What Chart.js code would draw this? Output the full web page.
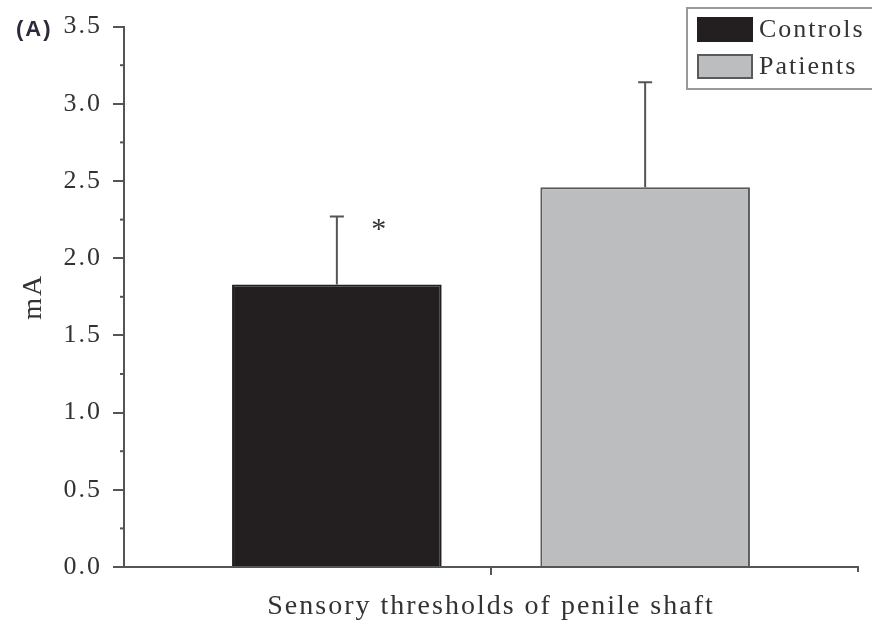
<!DOCTYPE html>
<html>
<head>
<meta charset="utf-8">
<script src="https://cdn.jsdelivr.net/npm/chart.js@4/dist/chart.umd.min.js"></script>
<style>
  body { margin: 0; background: #fff; }
  #wrap { width: 872px; height: 628px; position: relative; }
</style>
</head>
<body>
<div id="wrap"><canvas id="myChart"></canvas></div>
<script>
const categories = [""];
const seriesNames = ["Controls", "Patients"];
const means = [1.83, 2.46];
const errors = [0.44, 0.68];
const starred = [true, false];
const fills = ["#231f20", "#bcbdbf"];
const edges = ["#231f20", "#5a5a5a"];
const yTicks = [0, 0.5, 1, 1.5, 2, 2.5, 3, 3.5];

const serif = "'Liberation Serif', 'Times New Roman', serif";
const axisColor = "#555";
const spacing = "2px";

// the original type is set a little wide, so loosen the letters a bit
const loose = {
    id: "loose",
    beforeLayout(chart) { chart.ctx.letterSpacing = spacing; },
    beforeDraw(chart) { chart.ctx.letterSpacing = spacing; },
};

const datasets = seriesNames.map((name, i) => ({
    label: name,
    data: [means[i]],
    backgroundColor: fills[i],
    borderColor: edges[i],
    borderWidth: 2,
    borderSkipped: "bottom",
    categoryPercentage: 0.84,
    barPercentage: 0.68,
}));

// upper error bars, asterisk, minor ticks, panel letter and legend box
const extras = {
    id: "extras",
    afterDatasetsDraw(chart) {
        const ctx = chart.ctx;
        const y = chart.scales.y;
        const x = chart.scales.x;
        ctx.save();
        ctx.strokeStyle = axisColor;
        ctx.lineWidth = 2;
        chart.data.datasets.forEach((ds, i) => {
            const bar = chart.getDatasetMeta(i).data[0];
            const top = y.getPixelForValue(means[i] + errors[i]);
            ctx.beginPath();
            ctx.moveTo(bar.x, bar.y);
            ctx.lineTo(bar.x, top);
            ctx.moveTo(bar.x - 7, top);
            ctx.lineTo(bar.x + 7, top);
            ctx.stroke();
            if (starred[i]) {
                ctx.fillStyle = "#333";
                ctx.font = "30px " + serif;
                ctx.textAlign = "center";
                ctx.textBaseline = "middle";
                ctx.fillText("*", bar.x + 43, top + 14);
            }
        });

        // minor y ticks
        for (let k = 0; k < yTicks.length - 1; k++) {
            const py = y.getPixelForValue((yTicks[k] + yTicks[k + 1]) / 2);
            ctx.beginPath();
            ctx.moveTo(x.left - 4, py);
            ctx.lineTo(x.left, py);
            ctx.stroke();
        }
        // small end tick on x axis
        ctx.beginPath();
        ctx.moveTo(x.right, y.bottom);
        ctx.lineTo(x.right, y.bottom + 5);
        ctx.stroke();

        // panel letter
        ctx.fillStyle = "#2b2b3d";
        ctx.font = "bold 22px 'Liberation Sans', Arial, sans-serif";
        ctx.textAlign = "left";
        ctx.textBaseline = "middle";
        ctx.fillText("(A)", 16, 30);

        // legend
        ctx.fillStyle = "#fff";
        ctx.strokeStyle = "#999";
        ctx.lineWidth = 2;
        ctx.fillRect(687, 8, 200, 81);
        ctx.strokeRect(687, 8, 200, 81);
        ctx.font = "26px " + serif;
        chart.data.datasets.forEach((ds, i) => {
            const sy = 18 + i * 37;
            ctx.fillStyle = ds.backgroundColor;
            ctx.fillRect(698, sy, 54, 23);
            ctx.strokeStyle = ds.borderColor;
            ctx.lineWidth = 2;
            ctx.strokeRect(698, sy, 54, 23);
            ctx.fillStyle = "#333";
            ctx.textBaseline = "middle";
            ctx.fillText(ds.label, 759, sy + 12);
        });
        ctx.restore();
    }
};

const chart = new Chart(document.getElementById("myChart"), {
    type: "bar",
    data: { labels: categories, datasets },
    options: {
        responsive: true,
        maintainAspectRatio: false,
        animation: false,
        layout: { padding: { left: 0, right: 14, top: 24, bottom: 0 } },
        plugins: {
            legend: { display: false },
            tooltip: { enabled: false },
        },
        scales: {
            x: {
                grid: {
                    display: true,
                    offset: false,
                    drawOnChartArea: false,
                    tickLength: 8,
                    tickColor: axisColor,
                    lineWidth: 2,
                },
                border: { display: true, color: axisColor, width: 2 },
                ticks: { display: true, font: { size: 2 } },
                title: {
                    display: true,
                    text: "Sensory thresholds of penile shaft",
                    color: "#333",
                    font: { family: serif, size: 28 },
                    padding: { top: 0, bottom: 5 },
                },
                afterFit: (scale) => { scale.height = 61; },
            },
            y: {
                min: 0,
                max: 3.5,
                afterBuildTicks: (scale) => {
                    scale.ticks = yTicks.map((v) => ({ value: v }));
                },
                grid: {
                    display: true,
                    drawOnChartArea: false,
                    tickLength: 11,
                    tickColor: axisColor,
                    lineWidth: 2,
                },
                border: { display: true, color: axisColor, width: 2 },
                ticks: {
                    color: "#333",
                    padding: 11,
                    font: { family: serif, size: 26 },
                    callback: (v) => Number(v).toFixed(1),
                },
                title: {
                    display: true,
                    text: "mA",
                    color: "#333",
                    font: { family: serif, size: 28 },
                    padding: { top: 17, bottom: 0 },
                },
                afterFit: (scale) => { scale.width = 124; },
            },
        },
    },
    plugins: [loose, extras],
});
</script>
</body>
</html>
